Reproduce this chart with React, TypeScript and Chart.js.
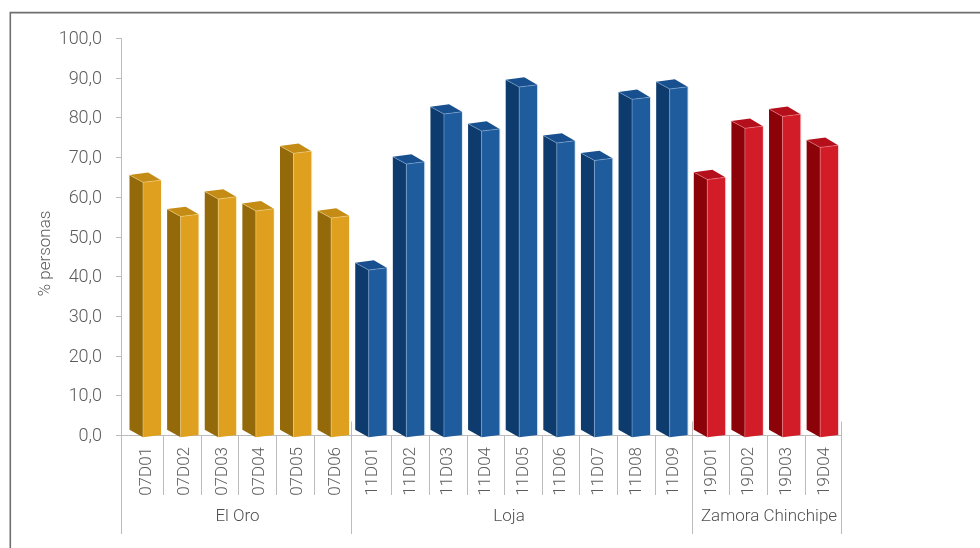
import React, { useEffect, useRef } from "react";
import { Chart, registerables } from "chart.js";

Chart.register(...registerables);

const categories = [
  "07D01", "07D02", "07D03", "07D04", "07D05", "07D06",
  "11D01", "11D02", "11D03", "11D04", "11D05", "11D06", "11D07", "11D08", "11D09",
  "19D01", "19D02", "19D03", "19D04",
];
const values = [
  64.2, 55.6, 60.0, 57.0, 71.5, 55.2,
  42.1, 68.8, 81.4, 77.1, 88.2, 74.1, 69.7, 85.1, 87.7,
  64.9, 77.8, 80.8, 73.0,
];
const groupNames = ["El Oro", "Loja", "Zamora Chinchipe"];
const groupSizes = [6, 9, 4];
const frontColors = ["#DF9F1F", "#1F5C9E", "#D21C28"];
const sideColors = ["#93690A", "#0E3B6D", "#8B0209"];
const topColors = ["#C48C14", "#18508F", "#B50F1C"];
const edgeColors = ["rgba(255,235,170,0.4)", "rgba(170,200,235,0.4)", "rgba(255,170,175,0.4)"];
const yTitle = "% personas";
const FONT = 'Roboto, "Liberation Sans", Arial, sans-serif';
const TEXT = "#5c5c5c";
const AXIS = "#bcbcbc";

const groupOf = (i: number) => {
  let acc = 0;
  for (let g = 0; g < groupSizes.length; g++) {
    acc += groupSizes[g];
    if (i < acc) return g;
  }
  return groupSizes.length - 1;
};

const backgrounds = categories.map((_, i) => frontColors[groupOf(i)]);

const poly = (ctx: CanvasRenderingContext2D, pts: number[][], fill: string) => {
  ctx.beginPath();
  pts.forEach(([x, y], i) => (i ? ctx.lineTo(x, y) : ctx.moveTo(x, y)));
  ctx.closePath();
  ctx.fillStyle = fill;
  ctx.fill();
};
const seg = (ctx: CanvasRenderingContext2D, pts: number[][], stroke: string) => {
  ctx.beginPath();
  pts.forEach(([x, y], i) => (i ? ctx.lineTo(x, y) : ctx.moveTo(x, y)));
  ctx.strokeStyle = stroke;
  ctx.lineWidth = 1;
  ctx.stroke();
};

const framePlugin = {
  id: "frame",
  beforeDraw(chart: any) {
    const { ctx, width, height } = chart;
    ctx.save();
    ctx.fillStyle = "#fff";
    ctx.fillRect(0, 0, width, height);
    ctx.strokeStyle = "#6f6f6f";
    ctx.lineWidth = 1.6;
    ctx.beginPath();
    ctx.moveTo(10.3, height);
    ctx.lineTo(10.3, 12.6);
    ctx.lineTo(width, 12.6);
    ctx.stroke();
    ctx.restore();
  },
};

const tickShift = [-0.8, 1.5, 1];
const boundaryShift = [-1.5, 1.6];
const labelShift = [1, -13, 2];

const axesPlugin = {
  id: "axes",
  beforeDatasetsDraw(chart: any) {
    const { ctx } = chart;
    const xs = chart.scales.x;
    const ys = chart.scales.y;
    const y0 = ys.getPixelForValue(0);
    const y100 = ys.getPixelForValue(100);
    const axisX = 121.5;
    const rightX = 841.5;
    const groupBottom = 534;
    const tickBottom = 495;
    const groupTop = 421.5;
    ctx.save();
    ctx.strokeStyle = AXIS;
    ctx.lineWidth = 1;
    const line = (x1: number, y1: number, x2: number, y2: number) => {
      ctx.beginPath();
      ctx.moveTo(x1, y1);
      ctx.lineTo(x2, y2);
      ctx.stroke();
    };
    line(axisX, y100, axisX, groupBottom);
    ys.ticks.forEach((t: any) => {
      const y = Math.round(ys.getPixelForValue(t.value)) + 0.5;
      line(116, y, axisX, y);
    });
    line(116, Math.round(y0) + 0.5, rightX, Math.round(y0) + 0.5);
    let start = 0;
    const boundaries: number[] = [axisX];
    groupSizes.forEach((size, g) => {
      const end = start + size;
      for (let i = start; i < end - 1; i++) {
        const x = Math.round((xs.getPixelForValue(i) + xs.getPixelForValue(i + 1)) / 2 + tickShift[g]) + 0.5;
        line(x, y0, x, tickBottom);
      }
      const bx = g === groupSizes.length - 1
        ? rightX
        : Math.round((xs.getPixelForValue(end - 1) + xs.getPixelForValue(end)) / 2 + boundaryShift[g]) + 0.5;
      line(bx, groupTop, bx, groupBottom);
      boundaries.push(bx);
      start = end;
    });
    ctx.fillStyle = "#505050";
    ctx.font = `300 17px ${FONT}`;
    ctx.textAlign = "center";
    ctx.textBaseline = "middle";
    groupNames.forEach((name, g) => {
      ctx.fillText(name, (boundaries[g] + boundaries[g + 1]) / 2 + labelShift[g], 517);
    });
    ctx.save();
    ctx.translate(46, 253.5);
    ctx.rotate(-Math.PI / 2);
    ctx.fillStyle = TEXT;
    ctx.fillText(yTitle, 0, 0);
    ctx.restore();
    ctx.restore();
  },
};

const bar3dPlugin = {
  id: "bar3d",
  beforeDatasetDraw(chart: any, args: any) {
    const { ctx } = chart;
    const meta = args.meta;
    ctx.save();
    meta.data.forEach((bar: any, i: number) => {
      const g = groupOf(i);
      const w = bar.width;
      const left = bar.x - w / 2;
      const right = bar.x + w / 2;
      const ridge = left + (w * 13.5) / 31.5;
      const rt = bar.y; // right front corner sits on the value
      const rb = bar.base;
      const ridgeT = rt + 2.2;
      const ridgeB = rb + 2.2;
      const leftT = ridgeT - 7.4;
      const leftB = ridgeB - 7.4;
      const backX = left + 18.6;
      const backT = leftT - 2.4;
      poly(ctx, [[left, leftT], [ridge, ridgeT], [ridge, ridgeB], [left, leftB]], sideColors[g]);
      poly(ctx, [[ridge, ridgeT], [right, rt], [right, rb], [ridge, ridgeB]], bar.options.backgroundColor);
      poly(ctx, [[left, leftT], [backX, backT], [right, rt], [ridge, ridgeT]], topColors[g]);
      seg(ctx, [[left, leftT], [ridge, ridgeT], [right, rt]], edgeColors[g]);
      seg(ctx, [[ridge, ridgeT], [ridge, ridgeB]], edgeColors[g]);
      seg(ctx, [[right + 0.5, rt], [right + 0.5, rb]], edgeColors[g]);
    });
    ctx.restore();
    return false;
  },
};

export default function App() {
  const ref = useRef<HTMLCanvasElement>(null);
  useEffect(() => {
    const chart = new Chart(ref.current!, {
      type: "bar",
      data: {
        labels: categories,
        datasets: [{ data: values, backgroundColor: backgrounds, barPercentage: 0.837, categoryPercentage: 1 }],
      },
      options: {
        animation: false,
        responsive: false,
        layout: { padding: { top: 38, right: 138.8, left: 0, bottom: 0 } },
        plugins: { legend: { display: false }, tooltip: { enabled: false } },
        scales: {
          x: {
            grid: { display: false, drawTicks: false },
            border: { display: false },
            afterFit(scale: any) { scale.height = 113; },
            ticks: {
              minRotation: 90,
              maxRotation: 90,
              autoSkip: false,
              padding: 12,
              labelOffset: 2,
              color: TEXT,
              font: { family: FONT, size: 17, weight: "300" },
            },
          },
          y: {
            min: 0,
            max: 100,
            grid: { display: false, drawTicks: false },
            border: { display: false },
            afterFit(scale: any) { scale.width = 126.44; },
            ticks: {
              stepSize: 10,
              padding: 24.4,
              labelOffset: 1.5,
              color: TEXT,
              font: { family: FONT, size: 18, weight: "300" },
              callback: (v: any) => Number(v).toFixed(1).replace(".", ","),
            },
          },
        },
      },
      plugins: [framePlugin, axesPlugin, bar3dPlugin],
    } as any);
    return () => chart.destroy();
  }, []);
  return (
    <div style={{ position: "fixed", left: 0, top: 0, width: 980, height: 548 }}>
      <canvas ref={ref} width={980} height={548} style={{ display: "block" }} />
    </div>
  );
}
